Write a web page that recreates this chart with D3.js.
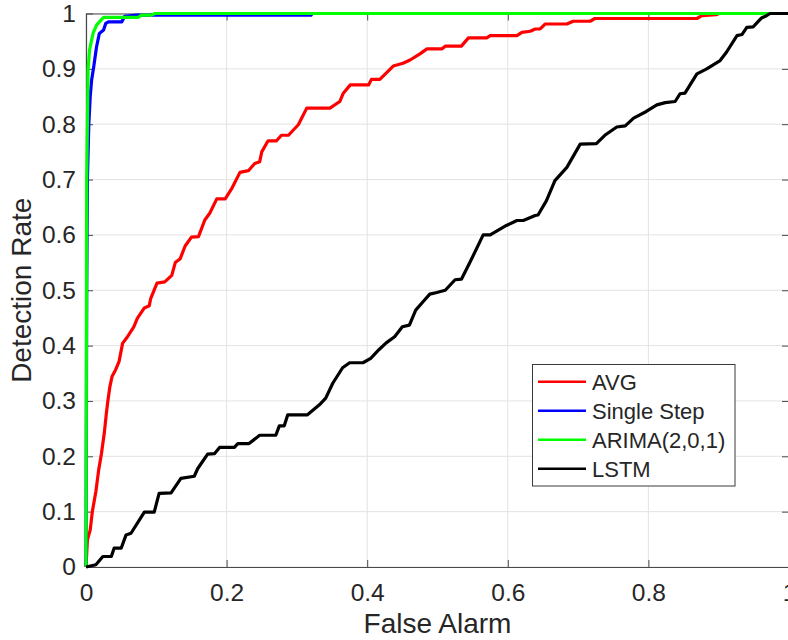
<!DOCTYPE html>
<html>
<head>
<meta charset="utf-8">
<script src="https://cdn.jsdelivr.net/npm/d3@7"></script>
<style>
    html, body { margin: 0; padding: 0; background: #fff; }
    svg { display: block; }
    text { font-family: "Liberation Sans", Arial, Helvetica, sans-serif; fill: #262626; }
</style>
</head>
<body>
<svg class="roc" width="788" height="640"></svg>
<script>
// ROC curves, [false alarm, detection rate]
var avgPoints = [
    [0,0],[0.002,0.049],[0.006,0.067],[0.009,0.100],[0.014,0.136],[0.018,0.175],[0.022,0.205],
    [0.026,0.242],[0.029,0.278],[0.031,0.299],[0.034,0.326],[0.037,0.344],[0.042,0.356],[0.047,0.371],
    [0.052,0.404],[0.059,0.416],[0.068,0.434],[0.073,0.449],[0.083,0.468],[0.090,0.472],[0.092,0.485],
    [0.101,0.513],[0.112,0.515],[0.122,0.527],[0.127,0.550],[0.134,0.557],[0.141,0.580],[0.150,0.596],
    [0.160,0.597],[0.169,0.627],[0.176,0.639],[0.186,0.665],[0.198,0.665],[0.207,0.683],[0.219,0.713],
    [0.231,0.716],[0.240,0.729],[0.247,0.732],[0.250,0.750],[0.259,0.770],[0.271,0.770],[0.278,0.780],
    [0.288,0.780],[0.302,0.799],[0.314,0.829],[0.347,0.829],[0.361,0.841],[0.366,0.856],[0.376,0.871],
    [0.402,0.871],[0.406,0.881],[0.418,0.881],[0.437,0.905],[0.451,0.910],[0.461,0.916],[0.475,0.927],
    [0.485,0.936],[0.506,0.936],[0.511,0.941],[0.534,0.941],[0.544,0.956],[0.570,0.956],[0.575,0.960],
    [0.613,0.960],[0.620,0.966],[0.632,0.968],[0.639,0.972],[0.646,0.972],[0.653,0.981],[0.684,0.981],
    [0.693,0.986],[0.717,0.986],[0.724,0.991],[0.869,0.991],[0.876,0.996],[0.897,0.998],[0.900,1],[1,1]
];
var singleStepPoints = [
    [0,0],[0.001,0.5],[0.002,0.7],[0.004,0.8],[0.006,0.85],[0.008,0.88],[0.011,0.904],[0.015,0.940],
    [0.019,0.964],[0.025,0.970],[0.028,0.982],[0.032,0.985],[0.051,0.985],[0.055,0.995],[0.072,0.997],
    [0.320,0.997],[0.322,1],[1,1]
];
var arimaPoints = [
    [0,0],[0.001,0.7],[0.002,0.8],[0.003,0.9],[0.005,0.934],[0.010,0.964],[0.015,0.979],[0.022,0.989],
    [0.025,0.993],[0.074,0.993],[0.079,0.997],[0.093,0.997],[0.098,1],[1,1]
];
var lstmPoints = [
    [0,0],[0.014,0.004],[0.024,0.019],[0.036,0.019],[0.040,0.034],[0.050,0.034],[0.057,0.058],
    [0.064,0.061],[0.076,0.085],[0.083,0.099],[0.097,0.099],[0.104,0.133],[0.121,0.134],[0.135,0.160],
    [0.154,0.164],[0.159,0.178],[0.173,0.204],[0.183,0.205],[0.190,0.216],[0.211,0.216],[0.216,0.223],
    [0.232,0.223],[0.247,0.238],[0.270,0.238],[0.275,0.255],[0.282,0.255],[0.287,0.275],[0.315,0.275],
    [0.332,0.293],[0.341,0.305],[0.351,0.332],[0.365,0.360],[0.375,0.369],[0.394,0.369],[0.405,0.377],
    [0.417,0.393],[0.427,0.405],[0.439,0.416],[0.450,0.434],[0.460,0.437],[0.469,0.464],[0.480,0.480],
    [0.489,0.493],[0.499,0.496],[0.511,0.500],[0.525,0.519],[0.534,0.520],[0.546,0.550],[0.565,0.600],
    [0.575,0.600],[0.598,0.617],[0.613,0.626],[0.622,0.626],[0.639,0.635],[0.643,0.636],[0.655,0.662],
    [0.667,0.698],[0.684,0.722],[0.703,0.764],[0.726,0.765],[0.738,0.780],[0.755,0.795],[0.767,0.797],
    [0.779,0.811],[0.797,0.823],[0.812,0.835],[0.824,0.839],[0.838,0.841],[0.845,0.855],[0.852,0.856],
    [0.869,0.891],[0.883,0.900],[0.902,0.915],[0.911,0.930],[0.926,0.960],[0.933,0.962],[0.940,0.975],
    [0.949,0.976],[0.961,0.992],[0.968,0.996],[0.973,1],[1,1]
];

var seriesNames = ["AVG", "Single Step", "ARIMA(2,0,1)", "LSTM"];
var seriesColors = ["#ff0000", "#0000ff", "#00ff00", "#000000"];
var seriesData = [avgPoints, singleStepPoints, arimaPoints, lstmPoints];

var xTicks = [0, 0.2, 0.4, 0.6, 0.8, 1];
var yTicks = [0, 0.1, 0.2, 0.3, 0.4, 0.5, 0.6, 0.7, 0.8, 0.9, 1];
var xTitle = "False Alarm";
var yTitle = "Detection Rate";

(function() {
    var svg = d3.select("svg.roc");

    var plotLeft = 86, plotRight = 789, plotTop = 13.5, plotBottom = 567;
    var tickLen = 7;
    var axisColor = "#4a4a4a";

    var x = d3.scaleLinear().domain([0, 1]).range([plotLeft, plotRight]);
    var y = d3.scaleLinear().domain([0, 1]).range([plotBottom, plotTop]);

    function fmt(d) { return d3.format("~g")(d); }

    // grid
    svg.append("g").selectAll("line")
        .data(xTicks)
        .enter()
            .append("line")
            .attr("x1", function(d) { return x(d); })
            .attr("x2", function(d) { return x(d); })
            .attr("y1", plotTop)
            .attr("y2", plotBottom)
            .attr("stroke", "#e3e3e3")
            .attr("stroke-width", 1);

    svg.append("g").selectAll("line")
        .data(yTicks)
        .enter()
            .append("line")
            .attr("x1", plotLeft)
            .attr("x2", plotRight)
            .attr("y1", function(d) { return y(d); })
            .attr("y2", function(d) { return y(d); })
            .attr("stroke", "#e3e3e3")
            .attr("stroke-width", 1);

    // axes, ticks pointing inward on all four sides
    var bottomAxis = svg.append("g")
        .attr("transform", "translate(0," + plotBottom + ")")
        .call(d3.axisBottom(x).tickValues(xTicks).tickFormat(fmt).tickSizeInner(-tickLen).tickSizeOuter(0).tickPadding(17));
    var topAxis = svg.append("g")
        .attr("transform", "translate(0," + plotTop + ")")
        .call(d3.axisTop(x).tickValues(xTicks).tickFormat("").tickSizeInner(-tickLen).tickSizeOuter(0));
    var leftAxis = svg.append("g")
        .attr("transform", "translate(" + plotLeft + ",0)")
        .call(d3.axisLeft(y).tickValues(yTicks).tickFormat(fmt).tickSizeInner(-tickLen).tickSizeOuter(0).tickPadding(10));
    var rightAxis = svg.append("g")
        .attr("transform", "translate(" + plotRight + ",0)")
        .call(d3.axisRight(y).tickValues(yTicks).tickFormat("").tickSizeInner(-tickLen).tickSizeOuter(0));

    [bottomAxis, topAxis, leftAxis, rightAxis].forEach(function(a) {
        a.select(".domain").attr("stroke", axisColor).attr("stroke-width", 1.2);
        a.selectAll(".tick line").attr("stroke", axisColor).attr("stroke-width", 1);
        a.selectAll(".tick text")
            .attr("font-family", "'Liberation Sans', Arial, Helvetica, sans-serif")
            .attr("font-size", "24.5px")
            .attr("fill", "#262626");
    });

    // curves
    var line = d3.line()
        .x(function(d) { return x(d[0]); })
        .y(function(d) { return y(d[1]); });

    svg.append("g").selectAll("path")
        .data(seriesData)
        .enter()
            .append("path")
            .attr("d", line)
            .attr("fill", "none")
            .attr("stroke", function(d, i) { return seriesColors[i]; })
            .attr("stroke-width", 3.2)
            .attr("stroke-linejoin", "round");

    // axis titles
    svg.append("text")
        .text(xTitle)
        .attr("x", (plotLeft + plotRight) / 2)
        .attr("y", 633)
        .attr("text-anchor", "middle")
        .attr("font-size", "28px");

    svg.append("text")
        .text(yTitle)
        .attr("transform", "translate(31," + ((plotTop + plotBottom) / 2) + ") rotate(-90)")
        .attr("text-anchor", "middle")
        .attr("font-size", "28px");

    // legend
    var legend = svg.append("g");
    legend.append("rect")
        .attr("x", 532.5)
        .attr("y", 364.5)
        .attr("width", 202.5)
        .attr("height", 121.5)
        .attr("fill", "#fff")
        .attr("stroke", "#3a3a3a")
        .attr("stroke-width", 1);

    var rows = legend.selectAll("g")
        .data(seriesNames)
        .enter()
            .append("g")
            .attr("transform", function(d, i) { return "translate(0," + (381.7 + i * 29) + ")"; });

    rows.append("line")
        .attr("x1", 538)
        .attr("x2", 586)
        .attr("y1", 0)
        .attr("y2", 0)
        .attr("stroke", function(d, i) { return seriesColors[i]; })
        .attr("stroke-width", 2.6);

    rows.append("text")
        .text(function(d) { return d; })
        .attr("x", 592)
        .attr("y", 0)
        .attr("dy", "0.36em")
        .attr("font-size", "22px");
})();
</script>
</body>
</html>
